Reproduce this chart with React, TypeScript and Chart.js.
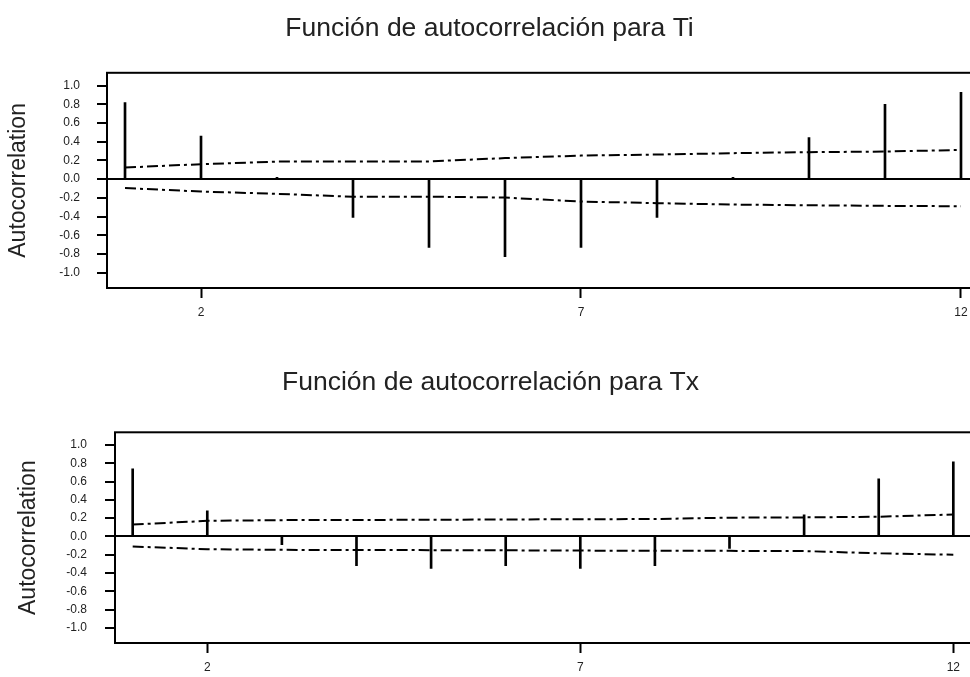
import React, { useEffect, useRef } from "react";
import { Chart, registerables } from "chart.js";

Chart.register(...registerables);

// ---- data ----
const LAGS = [1, 2, 3, 4, 5, 6, 7, 8, 9, 10, 11, 12];

const TI_ACF = [0.82, 0.46, 0.02, -0.41, -0.73, -0.83, -0.73, -0.41, 0.02, 0.445, 0.8, 0.93];
const TI_UPPER = [0.124, 0.16, 0.188, 0.188, 0.19, 0.225, 0.252, 0.263, 0.278, 0.289, 0.295, 0.313];
const TI_LOWER = [-0.096, -0.133, -0.157, -0.188, -0.188, -0.197, -0.24, -0.257, -0.272, -0.28, -0.286, -0.29];

const TX_ACF = [0.74, 0.28, -0.09, -0.32, -0.35, -0.32, -0.35, -0.32, -0.13, 0.235, 0.63, 0.815];
const TX_UPPER = [0.13, 0.17, 0.178, 0.18, 0.182, 0.185, 0.188, 0.19, 0.205, 0.208, 0.215, 0.24];
const TX_LOWER = [-0.11, -0.14, -0.147, -0.148, -0.15, -0.152, -0.155, -0.157, -0.158, -0.16, -0.185, -0.2];

const Y_TICKS = [1.0, 0.8, 0.6, 0.4, 0.2, 0.0, -0.2, -0.4, -0.6, -0.8, -1.0];
const X_TICKS = [2, 7, 12];

const TITLE_TI = "Función de autocorrelación para Ti";
const TITLE_TX = "Función de autocorrelación para Tx";
const Y_LABEL = "Autocorrelation";

const FONT = "'Liberation Sans', Arial, sans-serif";

const boxPlugin = {
  id: "plotBox",
  afterDatasetsDraw(chart: any) {
    const { ctx, chartArea } = chart;
    ctx.save();
    ctx.strokeStyle = "#000";
    ctx.lineWidth = 2;
    ctx.strokeRect(chartArea.left, chartArea.top, chartArea.right - chartArea.left, chartArea.bottom - chartArea.top);
    ctx.restore();
  },
};

type PanelProps = {
  title: string;
  acf: number[];
  upper: number[];
  lower: number[];
  width: number;
  height: number;
  padLeft: number;
  yAxisWidth: number;
  xAxisHeight: number;
  titlePadTop: number;
  titlePadBottom: number;
  yTitlePad: number;
  yTickPad: number;
};

function Panel(p: PanelProps) {
  const ref = useRef<HTMLCanvasElement>(null);
  useEffect(() => {
    const limitStyle = {
      type: "line" as const,
      borderColor: "#000",
      borderWidth: 2,
      borderDash: [11, 4, 3, 4],
      pointRadius: 0,
      tension: 0,
      fill: false,
    };
    const chart = new Chart(ref.current as HTMLCanvasElement, {
      type: "bar",
      data: {
        datasets: [
          {
            type: "bar",
            data: LAGS.map((l, i) => ({ x: l, y: p.acf[i] })),
            backgroundColor: "#000",
            borderWidth: 0,
            barThickness: 2,
          } as any,
          { ...limitStyle, data: LAGS.map((l, i) => ({ x: l, y: p.upper[i] })) } as any,
          { ...limitStyle, data: LAGS.map((l, i) => ({ x: l, y: p.lower[i] })) } as any,
        ],
      },
      options: {
        animation: false,
        responsive: false,
        devicePixelRatio: 1,
        events: [],
        layout: { padding: { left: p.padLeft, right: 0, top: 0, bottom: 0 } },
        plugins: {
          legend: { display: false },
          tooltip: { enabled: false },
          title: {
            display: true,
            text: p.title,
            color: "#222",
            font: { family: FONT, size: 26.5, weight: "normal" },
            padding: { top: p.titlePadTop, bottom: p.titlePadBottom },
          },
        },
        scales: {
          x: {
            type: "linear",
            min: 0.763,
            max: 12.237,
            offset: false,
            border: { display: false },
            grid: {
              display: true,
              offset: false,
              drawOnChartArea: false,
              drawTicks: true,
              tickLength: 10,
              tickWidth: 2,
              tickColor: "#000",
            },
            ticks: {
              color: "#222",
              font: { family: FONT, size: 12 },
              padding: 7,
              maxRotation: 0,
              callback: (v: any) => String(v),
            },
            afterBuildTicks: (scale: any) => {
              scale.ticks = X_TICKS.map((v) => ({ value: v }));
            },
            afterFit: (scale: any) => {
              scale.height = p.xAxisHeight;
            },
          },
          y: {
            type: "linear",
            min: -1.165,
            max: 1.138,
            border: { display: false },
            grid: {
              display: true,
              offset: false,
              drawOnChartArea: true,
              drawTicks: true,
              tickLength: 10,
              tickWidth: 2,
              tickColor: "#000",
              color: (ctx: any) => (ctx.tick && ctx.tick.value === 0 ? "#000" : "rgba(0,0,0,0)"),
              lineWidth: (ctx: any) => (ctx.tick && ctx.tick.value === 0 ? 2 : 0),
            },
            ticks: {
              color: "#222",
              font: { family: FONT, size: 12 },
              padding: p.yTickPad,
              callback: (v: any) => Number(v).toFixed(1),
            },
            title: {
              display: true,
              text: Y_LABEL,
              color: "#222",
              font: { family: FONT, size: 23 },
              padding: { top: p.yTitlePad, bottom: 0 },
            },
            afterBuildTicks: (scale: any) => {
              scale.ticks = Y_TICKS.map((v) => ({ value: v }));
            },
            afterFit: (scale: any) => {
              scale.width = p.yAxisWidth;
            },
          },
        },
      } as any,
      plugins: [boxPlugin],
    });
    return () => chart.destroy();
  }, []);
  return (
    <canvas
      ref={ref}
      width={p.width}
      height={p.height}
      style={{ display: "block", width: p.width, height: p.height }}
    />
  );
}

export default function App() {
  useEffect(() => {
    document.body.style.margin = "0";
    document.body.style.background = "#fff";
  }, []);
  return (
    <div style={{ width: 970, height: 677, overflow: "hidden", position: "relative", background: "#fff" }}>
      <Panel
        title={TITLE_TI}
        acf={TI_ACF}
        upper={TI_UPPER}
        lower={TI_LOWER}
        width={979}
        height={340}
        padLeft={0}
        yAxisWidth={107}
        xAxisHeight={52}
        titlePadTop={13}
        titlePadBottom={28}
        yTitlePad={5}
        yTickPad={17}
      />
      <Panel
        title={TITLE_TX}
        acf={TX_ACF}
        upper={TX_UPPER}
        lower={TX_LOWER}
        width={971}
        height={337}
        padLeft={10}
        yAxisWidth={105}
        xAxisHeight={34}
        titlePadTop={27}
        titlePadBottom={33.5}
        yTitlePad={5}
        yTickPad={18}
      />
    </div>
  );
}
